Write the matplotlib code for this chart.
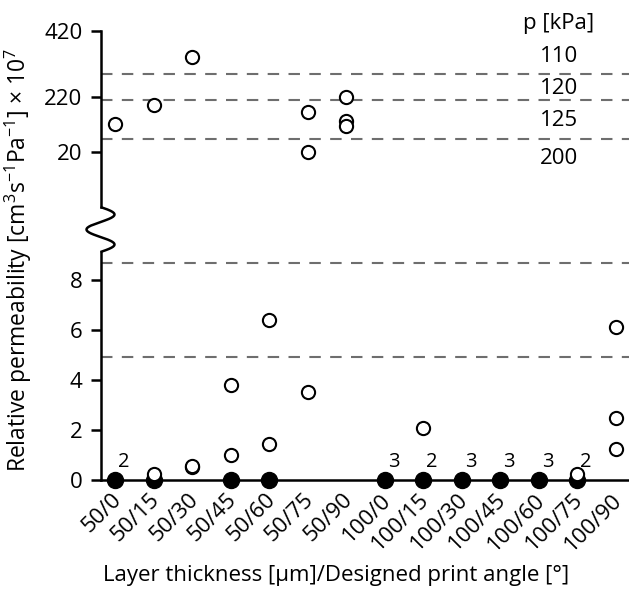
import numpy as np
import matplotlib
matplotlib.use("Agg")
import matplotlib.pyplot as plt
from matplotlib.lines import Line2D
from matplotlib.transforms import ScaledTranslation

# Layer thickness / print angle groups
categories = ["50/0", "50/15", "50/30", "50/45", "50/60", "50/75", "50/90",
              "100/0", "100/15", "100/30", "100/45", "100/60", "100/75", "100/90"]

# open circles, high range (upper panel)
high_cats = ["50/0", "50/15", "50/30", "50/75", "50/75", "50/90", "50/90", "50/90"]
high_vals = [122, 191, 341, 166, 22, 220, 135, 117]

# open circles, low range (lower panel)
low_cats = ["50/15", "50/30", "50/30", "50/45", "50/45", "50/60", "50/60", "50/75",
            "100/15", "100/75", "100/90", "100/90", "100/90"]
low_vals = [0.22, 0.50, 0.56, 0.99, 3.80, 1.43, 6.40, 3.50,
            2.06, 0.22, 1.22, 2.46, 6.11]

# filled circles = no measurable flow, with number of samples
zero_cats = ["50/0", "50/15", "50/45", "50/60", "100/0", "100/15",
             "100/30", "100/45", "100/60", "100/75"]
zero_vals = [0, 0, 0, 0, 0, 0, 0, 0, 0, 0]
zero_counts = [2, 1, 1, 1, 3, 2, 3, 3, 3, 2]

# pressure thresholds (dashed lines) and their labels
high_limits = [290, 209, 69.5]
low_limits = [8.68, 4.91]
high_p_labels = ["110", "120", "125", "200"]
high_p_pos = [342, 248, 137, -4]
low_p_labels = ["300", "400"]
low_p_pos = [7.81, 4.12]

plt.rcParams["font.family"] = ["Open Sans", "DejaVu Sans"]
plt.rcParams["mathtext.fontset"] = "custom"
plt.rcParams["mathtext.rm"] = "Open Sans"
fs = 16

W, H = 629, 596
fig = plt.figure(figsize=(W / 100, H / 100), dpi=100)


def fx(px):
    return px / W


def fy(py):
    return 1 - py / H


left = fx(100.5)
width = 1 - left
ax_hi = fig.add_axes([left, fy(207), width, fy(31) - fy(207)])
ax_lo = fig.add_axes([left, fy(479.5), width, fy(252) - fy(479.5)])


# upper panel is stretched a little differently above and below 220
def fwd(v):
    v = np.asarray(v, dtype=float)
    return np.where(v >= 220, (v - 220) / 3.017, (v - 220) / 3.636)


def inv(p):
    p = np.asarray(p, dtype=float)
    return np.where(p >= 0, 220 + p * 3.017, 220 + p * 3.636)


ax_hi.set_yscale("function", functions=(fwd, inv))

xpos = {c: i for i, c in enumerate(categories)}
spine_lw = 1.8
dash_kw = dict(color="#6e6e6e", lw=1.5, dashes=(5.5, 4.5), zorder=1)
open_kw = dict(ls="none", marker="o", ms=9.5, mfc="white", mec="black",
               mew=1.5, clip_on=False, zorder=4)

for ax in (ax_hi, ax_lo):
    ax.set_xlim(-0.377, 13.35)
    for s in ("top", "right"):
        ax.spines[s].set_visible(False)
    ax.spines["left"].set_linewidth(spine_lw)
    ax.tick_params(axis="y", length=7, width=spine_lw, pad=6, labelsize=fs)
    ax.patch.set_alpha(0)

# upper panel
ax_hi.set_ylim(-179, 420)
ax_hi.set_yticks([20, 220, 420])
ax_hi.spines["bottom"].set_visible(False)
ax_hi.set_xticks([])
for y in high_limits:
    ax_hi.axhline(y, **dash_kw)
ax_hi.plot([xpos[c] for c in high_cats], high_vals, **open_kw)
for lbl, y in zip(high_p_labels, high_p_pos):
    ax_hi.text(11.53, y, lbl, ha="center", va="center", fontsize=fs)
ax_hi.text(11.53, 442, "p [kPa]", ha="center", va="center", fontsize=fs,
           clip_on=False)

# lower panel
ax_lo.set_ylim(0, 9.14)
ax_lo.set_yticks([0, 2, 4, 6, 8])
ax_lo.spines["bottom"].set_linewidth(spine_lw)
for y in low_limits:
    ax_lo.axhline(y, **dash_kw)
ax_lo.plot([xpos[c] for c in zero_cats], zero_vals, ls="none", marker="o",
           ms=11.5, color="black", clip_on=False, zorder=3)
ax_lo.plot([xpos[c] for c in low_cats], low_vals, **open_kw)
for c, v, n in zip(zero_cats, zero_vals, zero_counts):
    if n > 1:
        ax_lo.annotate(str(n), (xpos[c], v), xytext=(6.5, 12.5),
                       textcoords="offset points", ha="center", va="center",
                       fontsize=14.5, zorder=5)

ax_lo.set_xticks(range(len(categories)))
ax_lo.set_xticklabels(categories, rotation=45, ha="right", va="center",
                      rotation_mode="anchor")
ax_lo.tick_params(axis="x", length=0, pad=12.5, labelsize=fs)
shift = ScaledTranslation(3 / 100, 0, fig.dpi_scale_trans)
for lbl in ax_lo.get_xticklabels():
    lbl.set_transform(lbl.get_transform() + shift)

# axis break squiggle between the two panels
t = np.linspace(0, 3 * np.pi, 200)
wx = 100.5 + 14 * np.sin(t)
wy = np.linspace(207, 252, 200)
fig.add_artist(Line2D(fx(wx), fy(wy), transform=fig.transFigure,
                      color="black", lw=spine_lw, solid_capstyle="butt"))

fig.text(fx(18), fy(260),
         r"Relative permeability [cm$^{3}$s$^{-1}$Pa$^{-1}$] × 10$^{7}$",
         rotation=90, ha="center", va="center", fontsize=16.5)
fig.text(fx(336), fy(576), "Layer thickness [µm]/Designed print angle [°]",
         ha="center", va="center", fontsize=16)

fig.savefig("out.png", dpi=100)
